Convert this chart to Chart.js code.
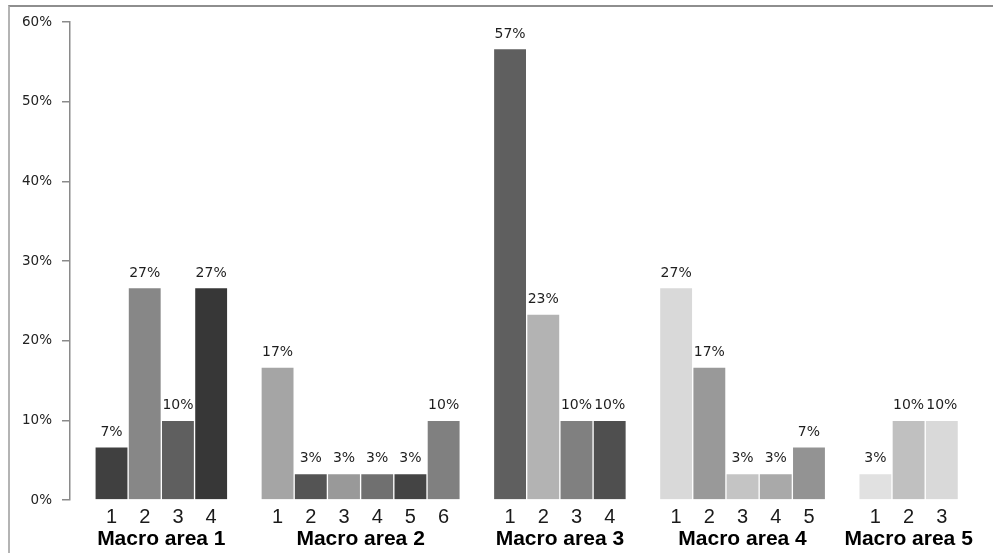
<!DOCTYPE html>
<html>
<head>
<meta charset="utf-8">
<title>Macro areas</title>
<script src="https://cdn.jsdelivr.net/npm/chart.js@4/dist/chart.umd.min.js"></script>
<style>
    html, body { margin: 0; padding: 0; background: #fff; }
    #wrap { position: relative; width: 993px; height: 553px; overflow: hidden; }
    #frame {
        position: absolute; left: 8px; top: 5px; right: -4px; bottom: -4px;
        border-left: 2px solid #b4b4b4; border-top: 2px solid #8e8e8e;
    }
    #chart { position: absolute; left: 0; top: 0; }
</style>
</head>
<body>
<div id="wrap">
    <div id="frame"></div>
    <canvas id="chart" width="993" height="553"></canvas>
</div>
<script>
// ── Data ─────────────────────────────────────────────────────────────────────
const areaNames = ['Macro area 1', 'Macro area 2', 'Macro area 3', 'Macro area 4', 'Macro area 5'];

// share of answers (%) per item inside each macro area
const area1 = [6.67, 26.67, 10, 26.67];
const area2 = [16.67, 3.33, 3.33, 3.33, 3.33, 10];
const area3 = [56.67, 23.33, 10, 10];
const area4 = [26.67, 16.67, 3.33, 3.33, 6.67];
const area5 = [3.33, 10, 10];

const yTicks = [0, 10, 20, 30, 40, 50, 60];

// bar fills, one list per macro area
const area1Colors = ['#404040', '#878787', '#5f5f5f', '#373737'];
const area2Colors = ['#a5a5a5', '#545454', '#999999', '#707070', '#444444', '#808080'];
const area3Colors = ['#5f5f5f', '#b3b3b3', '#808080', '#4f4f4f'];
const area4Colors = ['#d9d9d9', '#999999', '#c4c4c4', '#a9a9a9', '#939393'];
const area5Colors = ['#e1e1e1', '#c0c0c0', '#d9d9d9'];

// ── Build slots: one per bar, one empty slot between areas ───────────────────
const areas = [area1, area2, area3, area4, area5];
const areaColors = [area1Colors, area2Colors, area3Colors, area4Colors, area5Colors];

const points = [];
const colors = [];
const itemTicks = [];
const itemLabels = {};
const areaCenters = [];

let slot = 0;
areas.forEach((vals, g) => {
    const start = slot;
    vals.forEach((v, i) => {
        points.push({ x: slot, y: v });
        colors.push(areaColors[g][i]);
        itemTicks.push(slot);
        itemLabels[slot] = String(i + 1);
        slot++;
    });
    areaCenters.push(start + (vals.length - 1) / 2);
    slot++;
});
const lastSlot = itemTicks[itemTicks.length - 1];
const xMin = -1.25;
const xMax = lastSlot + 1.3;

// ── Value labels above bars ──────────────────────────────────────────────────
const barValueLabels = {
    id: 'barValueLabels',
    afterDatasetsDraw(chart) {
        const ctx = chart.ctx;
        const meta = chart.getDatasetMeta(0);
        ctx.save();
        ctx.font = '14px "DejaVu Sans"';
        ctx.fillStyle = '#1e1e1e';
        ctx.textAlign = 'center';
        ctx.textBaseline = 'alphabetic';
        meta.data.forEach((bar, i) => {
            ctx.fillText(Math.round(points[i].y) + '%', bar.x, bar.y - 11);
        });
        ctx.restore();
    }
};

new Chart(document.getElementById('chart').getContext('2d'), {
    type: 'bar',
    data: {
        datasets: [{
            data: points,
            backgroundColor: colors,
            borderColor: 'rgba(255,255,255,0.35)',
            borderWidth: 1,
            barPercentage: 1,
            categoryPercentage: 1
        }]
    },
    options: {
        responsive: false,
        animation: false,
        devicePixelRatio: 1,
        layout: { autoPadding: false, padding: { top: 22, right: 8, left: 0, bottom: 0 } },
        plugins: { legend: { display: false }, tooltip: { enabled: false } },
        scales: {
            x: {
                type: 'linear',
                position: 'bottom',
                weight: 0,
                offset: false,
                min: xMin,
                max: xMax,
                bounds: 'data',
                grid: { display: false, drawTicks: false, offset: false },
                border: { display: false },
                afterBuildTicks: s => { s.ticks = itemTicks.map(v => ({ value: v })); },
                afterFit: s => { s.height = 27; },
                ticks: {
                    autoSkip: false,
                    maxRotation: 0,
                    padding: 5,
                    color: '#1a1a1a',
                    font: { family: '"Liberation Sans", Arial', size: 20 },
                    callback: v => itemLabels[v] || ''
                }
            },
            groups: {
                type: 'linear',
                position: 'bottom',
                axis: 'x',
                weight: 1,
                offset: false,
                min: xMin,
                max: xMax,
                bounds: 'data',
                grid: { display: false, drawTicks: false, offset: false },
                border: { display: false },
                afterBuildTicks: s => { s.ticks = areaCenters.map(v => ({ value: v })); },
                afterFit: s => { s.height = 26; },
                ticks: {
                    autoSkip: false,
                    maxRotation: 0,
                    padding: 0,
                    color: '#000',
                    font: { family: '"Liberation Sans", Arial', size: 21, weight: 'bold' },
                    callback: (v, i) => areaNames[i]
                }
            },
            y: {
                min: 0,
                max: 60,
                afterBuildTicks: s => { s.ticks = yTicks.map(v => ({ value: v })); },
                afterFit: s => { s.width = 70; },
                grid: { drawOnChartArea: false, drawTicks: true, tickLength: 8, color: '#8a8a8a', lineWidth: 1.5 },
                border: { color: '#8a8a8a', width: 1.5 },
                ticks: {
                    padding: 10,
                    color: '#222',
                    font: { family: '"DejaVu Sans"', size: 13.5 },
                    callback: v => v + '%'
                }
            }
        }
    },
    plugins: [barValueLabels]
});
</script>
</body>
</html>
